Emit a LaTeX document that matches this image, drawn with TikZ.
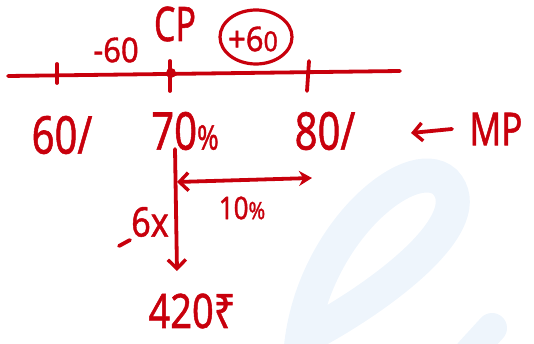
\documentclass[tikz,border=0pt]{standalone}
\usepackage{fontspec}
\usepackage{graphicx}
\setmainfont{Noto Sans}[FakeBold=1.2]
\usetikzlibrary{arrows.meta}
\definecolor{ink}{RGB}{200,0,12}
\definecolor{wm}{RGB}{238,245,252}
\newcommand{\hwtxt}[3]{\scalebox{1}[#2]{\fontsize{#1}{#1}\selectfont #3}}
\tikzset{
  pen/.style={draw=ink, line width=3.8pt, line cap=round, line join=round},
  lbl/.style={text=ink, inner sep=0pt},
  barb/.style={-{Straight Barb[length=9pt,width=18pt,line width=3.4pt]}},
}
\begin{document}
\begin{tikzpicture}[x=1pt,y=-1pt]
\useasboundingbox (0,0) rectangle (534,344);
% watermark
\draw[wm, line width=34pt, line cap=round] (300,360) .. controls (305,240) and (410,150) .. (445,182) .. controls (480,220) and (390,290) .. (318,330);
\draw[wm, line width=30pt, line cap=round] (492,328) -- (470,352);
% number line
\coordinate (L) at (8,76);
\coordinate (R) at (400,71);
\draw[pen] (L) -- (R);
\coordinate (t60a) at (57,64); \coordinate (t60b) at (57,83);
\coordinate (t70a) at (170,61); \coordinate (t70b) at (170,91);
\coordinate (t80a) at (309,61); \coordinate (t80b) at (307,91);
\draw[pen] (t60a) -- (t60b);
\draw[pen] (t70a) -- (t70b);
\draw[pen] (t80a) -- (t80b);
\fill[ink] (171,73) circle (5);
% top labels
\node[lbl] (cp) at (175,24) {\hwtxt{34}{1.4}{CP}};
\node[lbl] (m60) at (116,50) {\hwtxt{31}{1.1}{-60}};
\node[lbl] (p60) at (253,39) {\hwtxt{31}{1.1}{+6{\fontsize{25}{25}\selectfont 0}}};
\draw[pen, line width=3.2pt] (256,37) ellipse (36 and 27);
% percentages
\node[lbl] (s60) at (62,135) {\hwtxt{40}{1.3}{60/}};
\node[lbl] (s70) at (185,131) {\hwtxt{40}{1.3}{70{\fontsize{26}{26}\selectfont\%}}};
\node[lbl] (s80) at (325,131) {\hwtxt{40}{1.3}{80/}};
\node[lbl] (mp) at (496,129) {\hwtxt{35}{1.3}{MP}};
\coordinate (mpa) at (452,129);
\coordinate (mpb) at (411,133);
\draw[pen, barb] (mpa) -- (mpb);
% vertical arrow
\coordinate (va) at (175,149);
\coordinate (vb) at (177,271);
\draw[pen, barb] (va) -- (vb);
% horizontal arrow
\coordinate (ha) at (177,182);
\coordinate (hb) at (312,178);
\draw[pen, {Straight Barb[length=9pt,width=18pt,line width=3.4pt]}-{Stealth[length=13pt,width=15pt]}] (ha) -- (hb);
\node[lbl] (ten) at (242,208) {\hwtxt{26}{1.2}{10{\fontsize{20}{20}\selectfont\%}}};
% 6x
\node[lbl] (sx) at (150,222) {\hwtxt{34}{1.2}{6x}};
\coordinate (da) at (119,246);
\coordinate (db) at (130,240);
\draw[pen] (da) -- (db);
% result
\node[lbl] (res) at (192,311) {\hwtxt{38}{1.25}{420₹}};
\end{tikzpicture}
\end{document}
